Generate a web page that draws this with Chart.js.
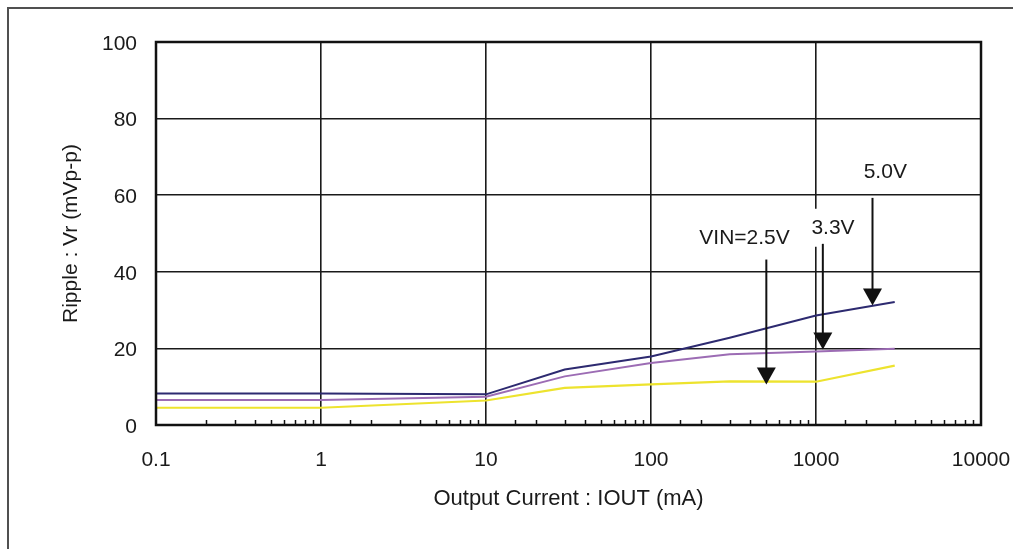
<!DOCTYPE html>
<html><head><meta charset="utf-8">
<script src="https://cdn.jsdelivr.net/npm/chart.js@4/dist/chart.umd.min.js"></script>
<style>
html,body{margin:0;padding:0;background:#fff;overflow:hidden;width:1013px;height:549px;}
#frame{position:absolute;left:7px;top:7px;width:1100px;height:700px;border-left:2px solid #505050;border-top:2px solid #505050;}
#c{position:absolute;left:0;top:0;}
</style></head><body>
<div id="frame"></div>
<canvas id="c" width="1013" height="549"></canvas>
<script>
// ---- data ----
const currentMA = [0.1, 1, 10, 30, 100, 300, 1000, 3000];
const ripple50 = [8.2, 8.2, 8.0, 14.5, 17.9, 22.8, 28.6, 32.1];
const ripple33 = [6.5, 6.5, 7.4, 12.7, 16.2, 18.5, 19.2, 19.9];
const ripple25 = [4.5, 4.5, 6.4, 9.7, 10.6, 11.4, 11.3, 15.5];
const seriesNames = ['5.0V', '3.3V', 'VIN=2.5V'];
const xTickValues = [0.1, 1, 10, 100, 1000, 10000];
const xTickLabels = ['0.1', '1', '10', '100', '1000', '10000'];
const yTickValues = [0, 20, 40, 60, 80, 100];
const yTickLabels = ['0', '20', '40', '60', '80', '100'];
// annotations (data coordinates)
const annText = ['VIN=2.5V', '3.3V', '5.0V'];
const annTextX = [369, 1268, 2630];
const annTextY = [48.9, 51.5, 66.1];
const annArrowX = [500, 1100, 2200];
const annArrowFrom = [43.2, 47.3, 59.3];
const annArrowTo = [10.6, 19.7, 31.2];

const FONT = '"Liberation Sans", Arial, Helvetica, sans-serif';
const INK = '#1a1a1a';
function isPow10(v){ const l = Math.log10(v); return Math.abs(l - Math.round(l)) < 1e-9; }
function xLabel(v){ for (let i=0;i<xTickValues.length;i++){ if (Math.abs(v - xTickValues[i]) < xTickValues[i]*1e-6) return xTickLabels[i]; } return ''; }
function yLabel(v){ const i = yTickValues.indexOf(v); return i >= 0 ? yTickLabels[i] : ''; }

const decor = {
  id: 'decor',
  afterDatasetsDraw(chart){
    const {ctx, chartArea: a, scales: {x, y}} = chart;
    ctx.save();
    // minor ticks on the bottom axis, pointing up
    ctx.strokeStyle = '#111'; ctx.lineWidth = 1.5;
    x.ticks.forEach(t => {
      if (!isPow10(t.value)) {
        const px = Math.round(x.getPixelForValue(t.value)) + 0.5;
        ctx.beginPath(); ctx.moveTo(px, a.bottom); ctx.lineTo(px, a.bottom - 5); ctx.stroke();
      }
    });
    // plot box
    ctx.lineWidth = 2.5; ctx.strokeStyle = '#111';
    ctx.strokeRect(a.left, a.top, a.right - a.left, a.bottom - a.top);
    // annotations
    ctx.font = '21px ' + FONT;
    ctx.textAlign = 'center'; ctx.textBaseline = 'middle';
    annText.forEach((s, i) => {
      const tx = x.getPixelForValue(annTextX[i]), ty = y.getPixelForValue(annTextY[i]);
      const w = ctx.measureText(s).width;
      ctx.fillStyle = '#fff'; ctx.fillRect(tx - w/2 - 5, ty - 19, w + 10, 38);
      ctx.fillStyle = INK; ctx.fillText(s, tx, ty);
      const ax = x.getPixelForValue(annArrowX[i]);
      const y0 = y.getPixelForValue(annArrowFrom[i]), y1 = y.getPixelForValue(annArrowTo[i]);
      ctx.strokeStyle = '#111'; ctx.lineWidth = 2;
      ctx.beginPath(); ctx.moveTo(ax, y0); ctx.lineTo(ax, y1 - 15); ctx.stroke();
      ctx.fillStyle = '#111';
      ctx.beginPath(); ctx.moveTo(ax - 9.5, y1 - 17); ctx.lineTo(ax + 9.5, y1 - 17); ctx.lineTo(ax, y1); ctx.closePath(); ctx.fill();
    });
    ctx.restore();
  }
};

const mk = (arr) => currentMA.map((v, i) => ({x: v, y: arr[i]}));

new Chart(document.getElementById('c'), {
  type: 'line',
  data: { datasets: [
    {label: seriesNames[0], data: mk(ripple50), borderColor: '#2d2a70', borderWidth: 2},
    {label: seriesNames[1], data: mk(ripple33), borderColor: '#9c6cb4', borderWidth: 2},
    {label: seriesNames[2], data: mk(ripple25), borderColor: '#ede32e', borderWidth: 2.2}
  ]},
  options: {
    responsive: false, animation: false, devicePixelRatio: 1,
    layout: {padding: {left: 0, top: 42, right: 32, bottom: 0}},
    plugins: {legend: {display: false}, tooltip: {enabled: false}},
    elements: {point: {radius: 0}, line: {tension: 0}},
    scales: {
      x: {
        type: 'logarithmic', min: 0.1, max: 10000,
        afterFit(s){ s.height = 124; s.paddingLeft = 0; s.paddingRight = 0; },
        grid: {color: c => (c.tick && isPow10(c.tick.value)) ? INK : 'rgba(0,0,0,0)', lineWidth: 1.6, drawTicks: false},
        border: {display: false},
        ticks: {autoSkip: false, maxRotation: 0, minRotation: 0, padding: 23, color: INK, font: {family: FONT, size: 21}, callback: v => xLabel(v)},
        title: {display: true, text: 'Output Current : IOUT (mA)', color: INK, font: {family: FONT, size: 22}, padding: {top: 0, bottom: 37}}
      },
      y: {
        min: 0, max: 100,
        afterFit(s){ s.width = 156; s.paddingTop = 0; s.paddingBottom = 0; },
        grid: {color: INK, lineWidth: 1.6, drawTicks: false},
        border: {display: false},
        ticks: {stepSize: 20, padding: 19, labelOffset: 2, color: INK, font: {family: FONT, size: 21}, callback: v => yLabel(v)},
        title: {display: true, text: 'Ripple : Vr (mVp-p)', color: INK, font: {family: FONT, size: 21}, padding: {top: 59, bottom: 0}}
      }
    }
  },
  plugins: [decor]
});
</script>
</body></html>
